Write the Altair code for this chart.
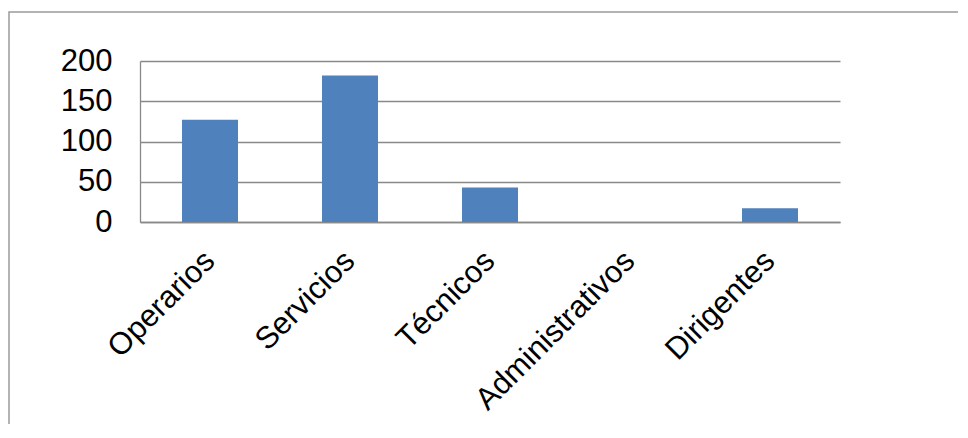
import altair as alt
import pandas as pd

categories = ["Operarios", "Servicios", "Técnicos", "Administrativos", "Dirigentes"]
values = [127, 182, 43, 0, 17]
y_ticks = [0, 50, 100, 150, 200]

df = pd.DataFrame({"cat": categories, "val": values})
frame_df = pd.DataFrame({"a": [0]})

FONT = "Liberation Sans"
GRID = "#898989"

bars = alt.Chart(df).mark_bar(color="#4F81BD").encode(
    x=alt.X(
        "cat:N",
        sort=categories,
        title=None,
        scale=alt.Scale(paddingInner=0.6, paddingOuter=0.3),
        axis=alt.Axis(
            labelAngle=-45,
            labelAlign="right",
            labelBaseline="middle",
            labelPadding=34,
            labelLimit=0,
            ticks=False,
            grid=False,
            domainColor=GRID,
            domainWidth=1.3,
            labelFont=FONT,
            labelFontSize=31,
            labelColor="black",
            labelOverlap=False,
        ),
    ),
    y=alt.Y(
        "val:Q",
        title=None,
        scale=alt.Scale(domain=[0, 200]),
        axis=alt.Axis(
            values=y_ticks,
            ticks=False,
            grid=True,
            gridColor=GRID,
            gridWidth=1.3,
            domainColor=GRID,
            domainWidth=1.3,
            labelPadding=28,
            labelFont=FONT,
            labelFontSize=31,
            labelColor="black",
        ),
    ),
)

frame = alt.Chart(frame_df).mark_rect(fill="transparent", stroke="#9a9a9a", strokeWidth=1.5).encode(
    x=alt.value(-131),
    x2=alt.value(1000),
    y=alt.value(-49),
    y2=alt.value(600),
)

chart = alt.layer(frame, bars).properties(
    width=700,
    height=161,
    autosize=alt.AutoSizeParams(type="none"),
    padding={"left": 132, "top": 53, "right": 118, "bottom": 202},
    background="white",
).configure_view(stroke=None)

chart.save("out.html", embed_options={"renderer": "svg", "actions": False})
